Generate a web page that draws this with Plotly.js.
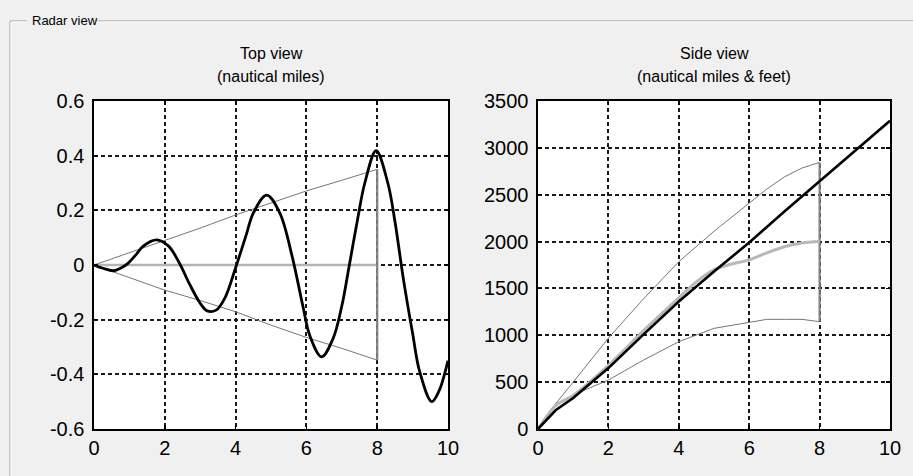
<!DOCTYPE html>
<html>
<head>
<meta charset="utf-8">
<script src="https://cdn.plot.ly/plotly-3.0.1.min.js"></script>
<style>
html,body{margin:0;padding:0;background:#f0f0f0;}
#chart{width:913px;height:476px;}
</style>
</head>
<body>
<div id="chart"></div>
<script>
// ---------- Top view (nautical miles) ----------
const topTrackX = [0, 0.25, 0.55, 0.75, 0.95, 1.2, 1.4, 1.77, 2.1, 2.4, 2.7, 3.0, 3.2, 3.45, 3.7, 4.0, 4.3, 4.5, 4.88, 5.25, 5.6, 5.9, 6.1, 6.43, 6.75, 7.0, 7.2, 7.45, 7.65, 7.97, 8.3, 8.5, 8.75, 9.0, 9.2, 9.54, 9.75, 9.9, 10.0];
const topTrackY = [0, -0.012, -0.021, -0.012, 0.005, 0.04, 0.07, 0.092, 0.07, 0.01, -0.07, -0.14, -0.168, -0.165, -0.12, -0.01, 0.11, 0.19, 0.256, 0.19, 0.03, -0.15, -0.26, -0.336, -0.27, -0.15, -0.01, 0.17, 0.3, 0.418, 0.3, 0.16, -0.06, -0.25, -0.39, -0.5, -0.46, -0.4, -0.35];

const topEnvX = [0, 1, 2, 3, 4, 5, 6, 7, 8];
const topUpperY = [0, 0.045, 0.089, 0.135, 0.183, 0.228, 0.271, 0.31, 0.35];
const topLowerY = [0, -0.045, -0.092, -0.13, -0.171, -0.22, -0.265, -0.305, -0.348];
const topCenterX = [0, 8];
const topCenterY = [0, 0];

// ---------- Side view (nautical miles & feet) ----------
const sideTrackX = [0, 0.5, 1, 2, 3, 4, 5, 6, 7, 8, 9, 10];
const sideTrackY = [0, 200, 330, 650, 1010, 1360, 1680, 1990, 2320, 2640, 2960, 3290];

const sideRefX = [0, 0.5, 1, 2, 3, 4, 4.5, 5, 5.5, 6, 6.5, 7, 7.5, 8];
const sideRefY = [0, 250, 360, 680, 1050, 1400, 1570, 1700, 1760, 1805, 1880, 1945, 1985, 2000];

const sideEnvX = [0, 0.5, 1, 2, 3, 4, 5, 6, 6.5, 7, 7.5, 8];
const sideUpperY = [0, 270, 500, 970, 1390, 1785, 2110, 2410, 2560, 2690, 2785, 2845];
const sideLowerY = [0, 250, 363, 523, 736, 932, 1074, 1135, 1170, 1170, 1170, 1145];

// tick labels
const xTicks = [0, 2, 4, 6, 8, 10];
const xTickText = ["0", "2", "4", "6", "8", "10"];
const topYTicks = [0.6, 0.4, 0.2, 0, -0.2, -0.4, -0.6];
const topYTickText = ["0.6", "0.4", "0.2", "0", "-0.2", "-0.4", "-0.6"];
const sideYTicks = [0, 500, 1000, 1500, 2000, 2500, 3000, 3500];
const sideYTickText = ["0", "500", "1000", "1500", "2000", "2500", "3000", "3500"];

// ---------- layout helpers (pixel -> paper) ----------
const W = 913, H = 476;
const px = v => v / W;
const py = v => 1 - v / H;

const thinGray = {color: '#767676', width: 1};

// closing vertical segment at the end of each envelope
const last = a => a[a.length - 1];
const topEndX = [last(topEnvX), last(topEnvX)];
const topEndY = [last(topUpperY), last(topLowerY)];
const sideEndX = [last(sideEnvX), last(sideEnvX)];
const sideEndY = [last(sideUpperY), last(sideLowerY)];

const traces = [
  {x: topCenterX, y: topCenterY, xaxis: 'x', yaxis: 'y', mode: 'lines',
   line: {color: '#b4b4b4', width: 2.5}, hoverinfo: 'skip'},
  {x: topEnvX, y: topUpperY, xaxis: 'x', yaxis: 'y', mode: 'lines', line: thinGray, hoverinfo: 'skip'},
  {x: topEnvX, y: topLowerY, xaxis: 'x', yaxis: 'y', mode: 'lines', line: thinGray, hoverinfo: 'skip'},
  {x: topEndX, y: topEndY, xaxis: 'x', yaxis: 'y', mode: 'lines', line: {color: '#808080', width: 2.2}, hoverinfo: 'skip'},
  {x: topTrackX, y: topTrackY, xaxis: 'x', yaxis: 'y', mode: 'lines',
   line: {color: '#000000', width: 2.8, shape: 'spline', smoothing: 1}, hoverinfo: 'skip'},

  {x: sideEnvX, y: sideUpperY, xaxis: 'x2', yaxis: 'y2', mode: 'lines', line: thinGray, hoverinfo: 'skip'},
  {x: sideEnvX, y: sideLowerY, xaxis: 'x2', yaxis: 'y2', mode: 'lines', line: thinGray, hoverinfo: 'skip'},
  {x: sideEndX, y: sideEndY, xaxis: 'x2', yaxis: 'y2', mode: 'lines', line: {color: '#808080', width: 2.2}, hoverinfo: 'skip'},
  {x: sideRefX, y: sideRefY, xaxis: 'x2', yaxis: 'y2', mode: 'lines',
   line: {color: '#b8b8b8', width: 3, shape: 'spline', smoothing: 0.8}, hoverinfo: 'skip'},
  {x: sideTrackX, y: sideTrackY, xaxis: 'x2', yaxis: 'y2', mode: 'lines',
   line: {color: '#000000', width: 2.6}, hoverinfo: 'skip'}
];

const tickFont = {family: 'Liberation Sans, Arial, sans-serif', size: 20, color: '#000'};
const gridCommon = {
  showgrid: true, gridcolor: '#1a1a1a', gridwidth: 2, griddash: '4px,3px',
  zeroline: false, showline: true, mirror: 'ticks', linecolor: '#000', linewidth: 1.6,
  ticks: 'inside', ticklen: 4, tickcolor: '#000', tickwidth: 1.5, tickfont: tickFont, fixedrange: true
};

const yDom = [py(429), py(101)];

const layout = {
  width: W, height: H,
  margin: {l: 0, r: 0, t: 0, b: 0, pad: 0},
  paper_bgcolor: '#f0f0f0', plot_bgcolor: '#ffffff',
  showlegend: false,
  xaxis: Object.assign({}, gridCommon, {domain: [px(94), px(448)], range: [0, 10],
    tickvals: xTicks, ticktext: xTickText, anchor: 'y'}),
  yaxis: Object.assign({}, gridCommon, {domain: yDom, range: [-0.6, 0.6],
    tickvals: topYTicks, ticktext: topYTickText, anchor: 'x', ticklabelstandoff: 4}),
  xaxis2: Object.assign({}, gridCommon, {domain: [px(538), px(890)], range: [0, 10],
    tickvals: xTicks, ticktext: xTickText, anchor: 'y2'}),
  yaxis2: Object.assign({}, gridCommon, {domain: yDom, range: [0, 3500],
    tickvals: sideYTicks, ticktext: sideYTickText, anchor: 'x2', ticklabelstandoff: 4}),
  annotations: [
    {text: 'Radar view', xref: 'paper', yref: 'paper', x: px(30), y: py(21), xanchor: 'left', yanchor: 'middle',
     showarrow: false, font: {family: 'Liberation Sans, Arial, sans-serif', size: 13, color: '#000'}},
    {text: 'Top view', xref: 'paper', yref: 'paper', x: px(271), y: py(53), xanchor: 'center', yanchor: 'middle',
     showarrow: false, font: {family: 'Liberation Sans, Arial, sans-serif', size: 16, color: '#000'}},
    {text: '(nautical miles)', xref: 'paper', yref: 'paper', x: px(271), y: py(77), xanchor: 'center', yanchor: 'middle',
     showarrow: false, font: {family: 'Liberation Sans, Arial, sans-serif', size: 16, color: '#000'}},
    {text: 'Side view', xref: 'paper', yref: 'paper', x: px(714), y: py(53), xanchor: 'center', yanchor: 'middle',
     showarrow: false, font: {family: 'Liberation Sans, Arial, sans-serif', size: 16, color: '#000'}},
    {text: '(nautical miles &amp; feet)', xref: 'paper', yref: 'paper', x: px(714), y: py(77), xanchor: 'center', yanchor: 'middle',
     showarrow: false, font: {family: 'Liberation Sans, Arial, sans-serif', size: 16, color: '#000'}}
  ],
  shapes: [
    {type: 'line', xref: 'paper', yref: 'paper', x0: px(10), y0: py(21), x1: px(27), y1: py(21), line: {color: '#a0a0a0', width: 1}},
    {type: 'line', xref: 'paper', yref: 'paper', x0: px(96), y0: py(21), x1: px(913), y1: py(21), line: {color: '#a0a0a0', width: 1}},
    {type: 'line', xref: 'paper', yref: 'paper', x0: px(11), y0: py(22), x1: px(27), y1: py(22), line: {color: '#ffffff', width: 1}},
    {type: 'line', xref: 'paper', yref: 'paper', x0: px(96), y0: py(22), x1: px(913), y1: py(22), line: {color: '#ffffff', width: 1}},
    {type: 'line', xref: 'paper', yref: 'paper', x0: px(10), y0: py(21), x1: px(10), y1: py(476), line: {color: '#a0a0a0', width: 1}},
    {type: 'line', xref: 'paper', yref: 'paper', x0: px(11), y0: py(22), x1: px(11), y1: py(476), line: {color: '#ffffff', width: 1}}
  ]
};

Plotly.newPlot('chart', traces, layout, {staticPlot: true, displayModeBar: false});
</script>
</body>
</html>
